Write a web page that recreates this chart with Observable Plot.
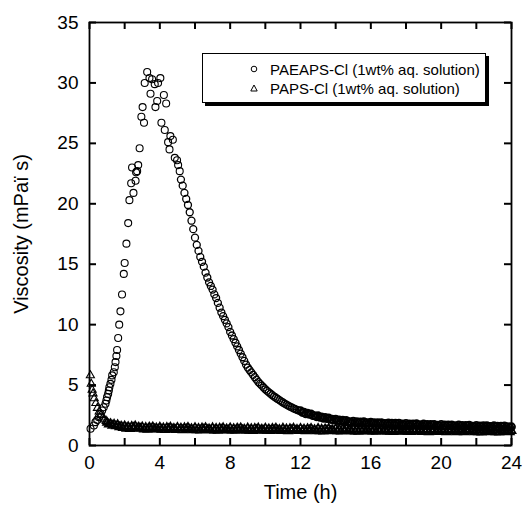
<!DOCTYPE html>
<html>
<head>
<meta charset="utf-8">
<script src="https://cdn.jsdelivr.net/npm/d3@7"></script>
<script src="https://cdn.jsdelivr.net/npm/@observablehq/plot@0.6"></script>
<style>
  html, body { margin: 0; padding: 0; background: #fff; }
  #wrap { position: relative; width: 525px; height: 507px; font-family: "Liberation Sans", Arial, sans-serif; }
  #legend {
    position: absolute; left: 202px; top: 53px; width: 284px; height: 50px;
    border: 1.5px solid #000; background: #fff; box-shadow: 3px 3px 0 #000;
    font-size: 15px; color: #000; box-sizing: border-box;
  }
  .row { position: absolute; left: 0; height: 20px; display: flex; align-items: center; white-space: nowrap; }
  .row svg { margin-left: 47px; margin-right: 12px; }
</style>
</head>
<body>
<div id="wrap">
  <div id="chart"></div>
  <div id="legend">
    <div class="row" style="top:5px"><svg width="8" height="8"><circle cx="4" cy="4" r="2.8" fill="none" stroke="#000" stroke-width="1"/></svg><span id="lab0"></span></div>
    <div class="row" style="top:24px"><svg width="8" height="8"><path d="M4,1 L7.2,7 L0.8,7 Z" fill="none" stroke="#000" stroke-width="1"/></svg><span id="lab1"></span></div>
  </div>
</div>
<script>
// ---- labels ----
const seriesNames = ["PAEAPS-Cl (1wt% aq. solution)", "PAPS-Cl (1wt% aq. solution)"];
const xLabel = "Time (h)";
const yLabel = "Viscosity (mPaï s)";
const xTicks = [0, 2, 4, 6, 8, 10, 12, 14, 16, 18, 20, 22, 24];
const xTickLabels = [0, 4, 8, 12, 16, 20, 24];
const yTicks = [0, 5, 10, 15, 20, 25, 30, 35];

// ---- PAEAPS-Cl (circles): early individual readings (time h, viscosity) ----
const paeapsEarlyT = [0.06, 0.25, 0.34, 0.44, 0.53, 0.63, 0.72, 0.81, 0.91, 0.96, 1.0, 1.06, 1.1, 1.13, 1.19, 1.25, 1.29, 1.38, 1.44, 1.48,
  1.53, 1.57, 1.63, 1.69, 1.76, 1.85, 1.95, 2.0, 2.1, 2.2, 2.27, 2.37, 2.42, 2.5, 2.62, 2.65, 2.71, 2.77, 2.85, 2.95,
  3.02, 3.1, 3.14, 3.28, 3.41, 3.47, 3.56, 3.71, 3.75, 3.85, 3.9, 4.03, 4.09, 4.23, 4.28, 4.36, 4.47, 4.55, 4.6, 4.74,
  4.85, 4.98, 5.04, 5.13];
const paeapsEarlyV = [1.38, 1.65, 1.93, 2.12, 2.34, 2.62, 2.9, 3.17, 3.45, 3.72, 4.0, 4.27, 4.55, 4.82, 5.1, 5.43, 5.8, 6.06, 6.48, 6.9,
  7.4, 7.9, 8.9, 10.0, 11.1, 12.5, 14.2, 15.1, 16.7, 18.4, 20.3, 21.7, 23.0, 20.9, 21.9, 22.6, 22.7, 23.2, 24.6, 27.2,
  28.0, 26.7, 30.0, 30.9, 30.4, 29.1, 30.3, 29.9, 28.0, 28.5, 30.0, 30.4, 26.7, 29.0, 26.1, 28.3, 25.1, 24.5, 25.6, 25.3,
  23.8, 23.6, 23.2, 22.7];

// ---- PAEAPS-Cl (circles): decay, logged every 0.1 h from 5.2 h to 24.0 h ----
const paeapsDecayStart = 5.2, paeapsDecayStep = 0.1;
const paeapsDecayV = [
  22.0, 21.5, 20.9, 20.4, 19.9, 19.3, 18.6, 17.9,
  17.2, 16.6, 16.1, 15.6, 15.2, 14.8, 14.3, 13.9, 13.5, 13.2,
  12.9, 12.5, 12.2, 11.8, 11.4, 11.0, 10.7, 10.4, 10.1, 9.8,
  9.4, 9.1, 8.8, 8.5, 8.2, 7.9, 7.6, 7.3, 7.0, 6.7,
  6.45, 6.25, 6.05, 5.85, 5.65, 5.45, 5.25, 5.1, 4.95, 4.8,
  4.65, 4.52, 4.4, 4.28, 4.16, 4.05, 3.95, 3.85, 3.75, 3.65,
  3.56, 3.47, 3.38, 3.3, 3.22, 3.15, 3.08, 3.01, 2.95, 2.89,
  2.89, 2.73, 2.76, 2.62, 2.67, 2.57, 2.61, 2.47, 2.47, 2.38,
  2.46, 2.32, 2.37, 2.25, 2.32, 2.23, 2.28, 2.16, 2.17, 2.10,
  2.19, 2.06, 2.12, 2.01, 2.09, 2.01, 2.07, 1.96, 1.98, 1.92,
  2.01, 1.90, 1.97, 1.87, 1.96, 1.90, 1.97, 1.86, 1.90, 1.84,
  1.94, 1.83, 1.90, 1.80, 1.90, 1.83, 1.90, 1.80, 1.83, 1.78,
  1.88, 1.76, 1.84, 1.74, 1.84, 1.77, 1.85, 1.74, 1.78, 1.72,
  1.83, 1.71, 1.79, 1.69, 1.79, 1.72, 1.80, 1.69, 1.73, 1.67,
  1.78, 1.66, 1.74, 1.64, 1.74, 1.68, 1.75, 1.65, 1.68, 1.63,
  1.74, 1.62, 1.70, 1.60, 1.70, 1.64, 1.71, 1.61, 1.65, 1.59,
  1.70, 1.59, 1.66, 1.57, 1.67, 1.60, 1.68, 1.58, 1.61, 1.56,
  1.67, 1.55, 1.63, 1.54, 1.64, 1.57, 1.65, 1.55, 1.58, 1.53,
  1.64, 1.53, 1.60, 1.51, 1.61, 1.55, 1.62, 1.52, 1.56, 1.51,
  1.55];

// ---- PAPS-Cl (triangles): early individual readings ----
const papsEarlyT = [0.05, 0.1, 0.15, 0.2, 0.27, 0.36, 0.45, 0.55, 0.65, 0.75, 0.85, 0.95];
const papsEarlyV = [5.8, 5.1, 4.6, 4.3, 3.9, 3.5, 3.1, 2.8, 2.5, 2.3, 2.15, 2.02];

// ---- PAPS-Cl (triangles): logged every 0.1 h from 1.0 h to 24.0 h ----
const papsStart = 1.0, papsStep = 0.1;
const papsV = [
  1.90, 1.76, 1.80, 1.64, 1.74, 1.60, 1.70, 1.53, 1.59, 1.47,
  1.60, 1.41, 1.54, 1.39, 1.57, 1.47, 1.60, 1.43, 1.50, 1.40,
  1.53, 1.34, 1.47, 1.32, 1.50, 1.40, 1.53, 1.36, 1.43, 1.33,
  1.50, 1.31, 1.44, 1.29, 1.47, 1.37, 1.50, 1.33, 1.40, 1.30,
  1.48, 1.29, 1.42, 1.27, 1.45, 1.35, 1.48, 1.31, 1.38, 1.28,
  1.46, 1.27, 1.40, 1.25, 1.43, 1.33, 1.46, 1.29, 1.36, 1.26,
  1.45, 1.26, 1.39, 1.24, 1.42, 1.32, 1.45, 1.28, 1.35, 1.25,
  1.44, 1.25, 1.38, 1.23, 1.41, 1.31, 1.44, 1.27, 1.34, 1.24,
  1.43, 1.24, 1.37, 1.22, 1.40, 1.30, 1.43, 1.26, 1.33, 1.23,
  1.42, 1.23, 1.36, 1.21, 1.39, 1.29, 1.42, 1.25, 1.32, 1.22,
  1.41, 1.22, 1.35, 1.20, 1.38, 1.28, 1.41, 1.24, 1.31, 1.21,
  1.40, 1.21, 1.34, 1.19, 1.37, 1.27, 1.40, 1.23, 1.30, 1.20,
  1.39, 1.20, 1.33, 1.18, 1.36, 1.26, 1.39, 1.22, 1.29, 1.19,
  1.38, 1.19, 1.32, 1.17, 1.35, 1.25, 1.38, 1.21, 1.28, 1.18,
  1.37, 1.18, 1.31, 1.16, 1.34, 1.24, 1.37, 1.20, 1.27, 1.17,
  1.36, 1.17, 1.30, 1.15, 1.33, 1.23, 1.36, 1.19, 1.26, 1.16,
  1.35, 1.16, 1.29, 1.14, 1.32, 1.22, 1.35, 1.18, 1.25, 1.15,
  1.34, 1.15, 1.28, 1.13, 1.31, 1.21, 1.34, 1.17, 1.24, 1.14,
  1.33, 1.14, 1.27, 1.12, 1.30, 1.20, 1.33, 1.16, 1.23, 1.13,
  1.32, 1.13, 1.26, 1.11, 1.29, 1.19, 1.32, 1.15, 1.22, 1.12,
  1.32, 1.13, 1.26, 1.11, 1.29, 1.19, 1.32, 1.15, 1.22, 1.12,
  1.31, 1.12, 1.25, 1.10, 1.28, 1.18, 1.31, 1.14, 1.21, 1.11,
  1.31, 1.12, 1.25, 1.10, 1.28, 1.18, 1.31, 1.14, 1.21, 1.11,
  1.21];

// ---- build tables ----
const circlesEarly = paeapsEarlyT.map((t, i) => ({t, v: paeapsEarlyV[i]}));
const circlesDecay = paeapsDecayV.map((v, i) => ({t: +(paeapsDecayStart + i * paeapsDecayStep).toFixed(2), v}));
const trianglesEarly = papsEarlyT.map((t, i) => ({t, v: papsEarlyV[i]}));
const trianglesLate = papsV.map((v, i) => ({t: +(papsStart + i * papsStep).toFixed(2), v}));

document.getElementById("lab0").textContent = seriesNames[0];
document.getElementById("lab1").textContent = seriesNames[1];

const W = 525, H = 507, ML = 89, MR = 14, MT = 22, MB = 62;
const TL = 7; // inward tick length (px)
const innerW = W - ML - MR, innerH = H - MT - MB;

const chart = Plot.plot({
  width: W, height: H,
  marginLeft: ML, marginRight: MR, marginTop: MT, marginBottom: MB,
  style: {fontFamily: "'Liberation Sans', Arial, sans-serif", fontSize: "19px", color: "#000", background: "#fff"},
  x: {domain: [0, 24]},
  y: {domain: [0, 35]},
  marks: [
    // tick labels
    Plot.axisX(xTickLabels, {anchor: "bottom", tickSize: 0, tickPadding: 10, label: null}),
    Plot.axisY(yTicks, {anchor: "left", tickSize: 0, tickPadding: 11, label: null}),
    // axis titles
    Plot.axisX(xTickLabels, {anchor: "bottom", tickSize: 0, tickFormat: () => "", label: xLabel, fontSize: 20, labelAnchor: "center", labelArrow: "none", labelOffset: 53}),
    Plot.axisY(yTicks, {anchor: "left", tickSize: 0, tickFormat: () => "", label: yLabel, fontSize: 20, labelAnchor: "center", labelArrow: "none", labelOffset: 76}),
    // data
    Plot.dot(trianglesEarly, {x: "t", y: "v", symbol: "triangle", r: 3, stroke: "#000", strokeWidth: 1.1, fill: "none"}),
    Plot.dot(trianglesLate, {x: "t", y: "v", symbol: "triangle", r: 3, stroke: "#000", strokeWidth: 1.7, fill: "none"}),
    Plot.dot(circlesEarly, {x: "t", y: "v", symbol: "circle", r: 3.5, stroke: "#000", strokeWidth: 1.1, fill: "none"}),
    Plot.dot(circlesDecay, {x: "t", y: "v", symbol: "circle", r: 3.5, stroke: "#000", strokeWidth: 1.3, fill: "none", filter: d => d.t < 11.95}),
    Plot.dot(circlesDecay, {x: "t", y: "v", symbol: "circle", r: 3.5, stroke: "#000", strokeWidth: 1.8, fill: "none", filter: d => d.t >= 11.95}),
    // inward ticks on all four sides
    Plot.tickX(xTicks, {x: d => d, insetTop: innerH - TL, stroke: "#000", strokeWidth: 2}),
    Plot.tickX(xTicks, {x: d => d, insetBottom: innerH - TL, stroke: "#000", strokeWidth: 2}),
    Plot.tickY(yTicks, {y: d => d, insetRight: innerW - TL, stroke: "#000", strokeWidth: 2}),
    Plot.tickY(yTicks, {y: d => d, insetLeft: innerW - TL, stroke: "#000", strokeWidth: 2}),
    Plot.frame({stroke: "#000", strokeWidth: 1.8})
  ]
});
document.getElementById("chart").appendChild(chart);
</script>
</body>
</html>
